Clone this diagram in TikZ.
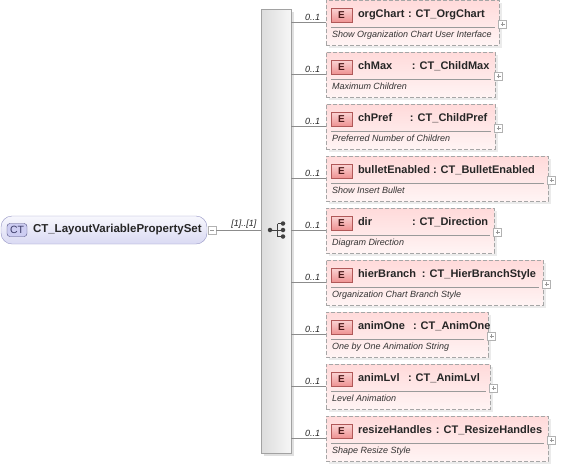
\documentclass[tikz,border=0pt]{standalone}
\usepackage{fontspec}
\setmainfont{Liberation Sans}
\usepackage{xcolor}
\usetikzlibrary{positioning, shadows}

\definecolor{ctline}{HTML}{9494C4}
\definecolor{cttop}{HTML}{F7F7FD}
\definecolor{ctbottom}{HTML}{DADAF3}
\definecolor{ctbadgefill}{HTML}{CDCDF2}
\definecolor{ctbadgeline}{HTML}{4E4E80}
\definecolor{ctbadgetext}{HTML}{3A3A66}
\definecolor{elline}{HTML}{A6A6A6}
\definecolor{eltop}{HTML}{FFDADA}
\definecolor{elbottom}{HTML}{FFF4F4}
\definecolor{ebtop}{HTML}{FBD4D4}
\definecolor{ebbottom}{HTML}{EE9292}
\definecolor{ebline}{HTML}{B05858}
\definecolor{ebtext}{HTML}{4A1A1A}
\definecolor{seqleft}{HTML}{DCDCDC}
\definecolor{seqright}{HTML}{F6F6F6}
\definecolor{seqline}{HTML}{A2A2A2}
\definecolor{connline}{HTML}{8C8C8C}
\definecolor{sepline}{HTML}{9A9A9A}

\begin{document}
\begin{tikzpicture}[x=1pt, y=-1pt,
    every node/.style={inner sep=0pt, outer sep=0pt},
    ctnode/.style={draw=ctline, rounded corners=11pt, top color=cttop, bottom color=ctbottom,
        minimum width=206pt, minimum height=28pt},
    ctbadge/.style={draw=ctbadgeline, rounded corners=3pt, fill=ctbadgefill, minimum width=20pt,
        minimum height=13pt, text=ctbadgetext, font=\fontsize{10.5}{12}\selectfont},
    typetitle/.style={font=\fontsize{11.5}{13}\selectfont\bfseries, text=black!85},
    seqbar/.style={draw=seqline, left color=seqleft, right color=seqright,
        drop shadow={shadow xshift=3pt, shadow yshift=-3pt, fill=black!12, opacity=1}},
    seqdot/.style={circle, fill=black!75, minimum size=4.5pt},
    elembox/.style={draw=elline, dashed, dash pattern=on 4pt off 2pt, top color=eltop, bottom color=elbottom,
        drop shadow={shadow xshift=2.5pt, shadow yshift=-2.5pt, fill=black!8, opacity=1}},
    ebadge/.style={draw=ebline, top color=ebtop, bottom color=ebbottom, minimum width=21pt,
        minimum height=14pt, text=ebtext, font=\fontsize{10}{11}\selectfont\bfseries},
    eltitle/.style={font=\fontsize{11}{13}\selectfont\bfseries, text=black!85},
    eldesc/.style={font=\fontsize{9}{11}\selectfont\itshape, text=black!80},
    mult/.style={font=\fontsize{9}{10}\selectfont\itshape, text=black!85},
    togglebox/.style={draw=black!30, fill=white, minimum size=8pt},
    togglesign/.style={draw=black!40, line width=0.5pt},
    conn/.style={draw=connline, line width=0.6pt}]

\useasboundingbox (0,0) rectangle (564,467);

% complex type on the left
\node[ctnode, anchor=west] (lvps) at (1,230) {};
\node[ctbadge, right=6pt of lvps.west] (ctb) {CT};
\node[typetitle, right=6pt of ctb] (lvpsname) {CT\_LayoutVariablePropertySet};
\node[togglebox, anchor=west] (lvpsminus) at ([xshift=1pt]lvps.east) {};
\draw[togglesign] ([xshift=2pt]lvpsminus.west) -- ([xshift=-2pt]lvpsminus.east);

% sequence compositor
\node[seqbar, minimum width=30pt, minimum height=444pt, anchor=north west] (seq) at (261,9) {};
\draw[conn] (lvpsminus.east) -- node[mult, pos=0.62, above=2pt] {[1]..[1]} (lvpsminus.east -| seq.west);

\node[seqdot] (sq0) at (270,230) {};
\coordinate (sqv) at (277.5,230);
\node[seqdot] (sq1) at (283,223.5) {};
\node[seqdot] (sq2) at (283,230) {};
\node[seqdot] (sq3) at (283,236.5) {};
\draw[black!75, line width=0.8pt] (sq0) -- (sqv) (sqv |- sq1) -- (sqv |- sq3)
    (sqv |- sq1) -- (sq1) (sqv |- sq2) -- (sq2) (sqv |- sq3) -- (sq3);

% child elements
\foreach \elname/\eltype/\eldescr/\boxw/\colx [count=\i from 0] in {
    orgChart/CT\_OrgChart/Show Organization Chart User Interface/173/50,
    chMax/CT\_ChildMax/Maximum Children/169/54,
    chPref/CT\_ChildPref/Preferred Number of Children/169/52,
    bulletEnabled/CT\_BulletEnabled/Show Insert Bullet/222/75,
    dir/CT\_Direction/Diagram Direction/168/54,
    hierBranch/CT\_HierBranchStyle/Organization Chart Branch Style/217/64,
    animOne/CT\_AnimOne/One by One Animation String/162/55,
    animLvl/CT\_AnimLvl/Level Animation/164/50,
    resizeHandles/CT\_ResizeHandles/Shape Resize Style/222/78}
{
    \pgfmathsetmacro{\ly}{22+52*\i}
    \node[elembox, minimum width=\boxw pt, minimum height=45pt, anchor=north west] (el\i) at (326,\ly-22) {};
    \node[ebadge, anchor=north west] (eb\i) at (331,\ly-14) {E};
    \node[eltitle, anchor=base west] (et\i) at (358,\ly-5) {\makebox[\colx pt][l]{\elname}: \eltype};
    \draw[sepline, line width=0.6pt] (331,\ly+5) -- (322+\boxw,\ly+5);
    \node[eldesc, anchor=base west] (ed\i) at (332,\ly+15.5) {\eldescr};
    \node[togglebox] (ep\i) at (329.5+\boxw,\ly+2) {};
    \draw[togglesign] ([xshift=2pt]ep\i.west) -- ([xshift=-2pt]ep\i.east)
        ([yshift=2pt]ep\i.south) -- ([yshift=-2pt]ep\i.north);
    \draw[conn] (seq.east |- el\i.west) -- node[mult, pos=0.62, above=2pt] {0..1} (el\i.west);
}
\end{tikzpicture}
\end{document}
